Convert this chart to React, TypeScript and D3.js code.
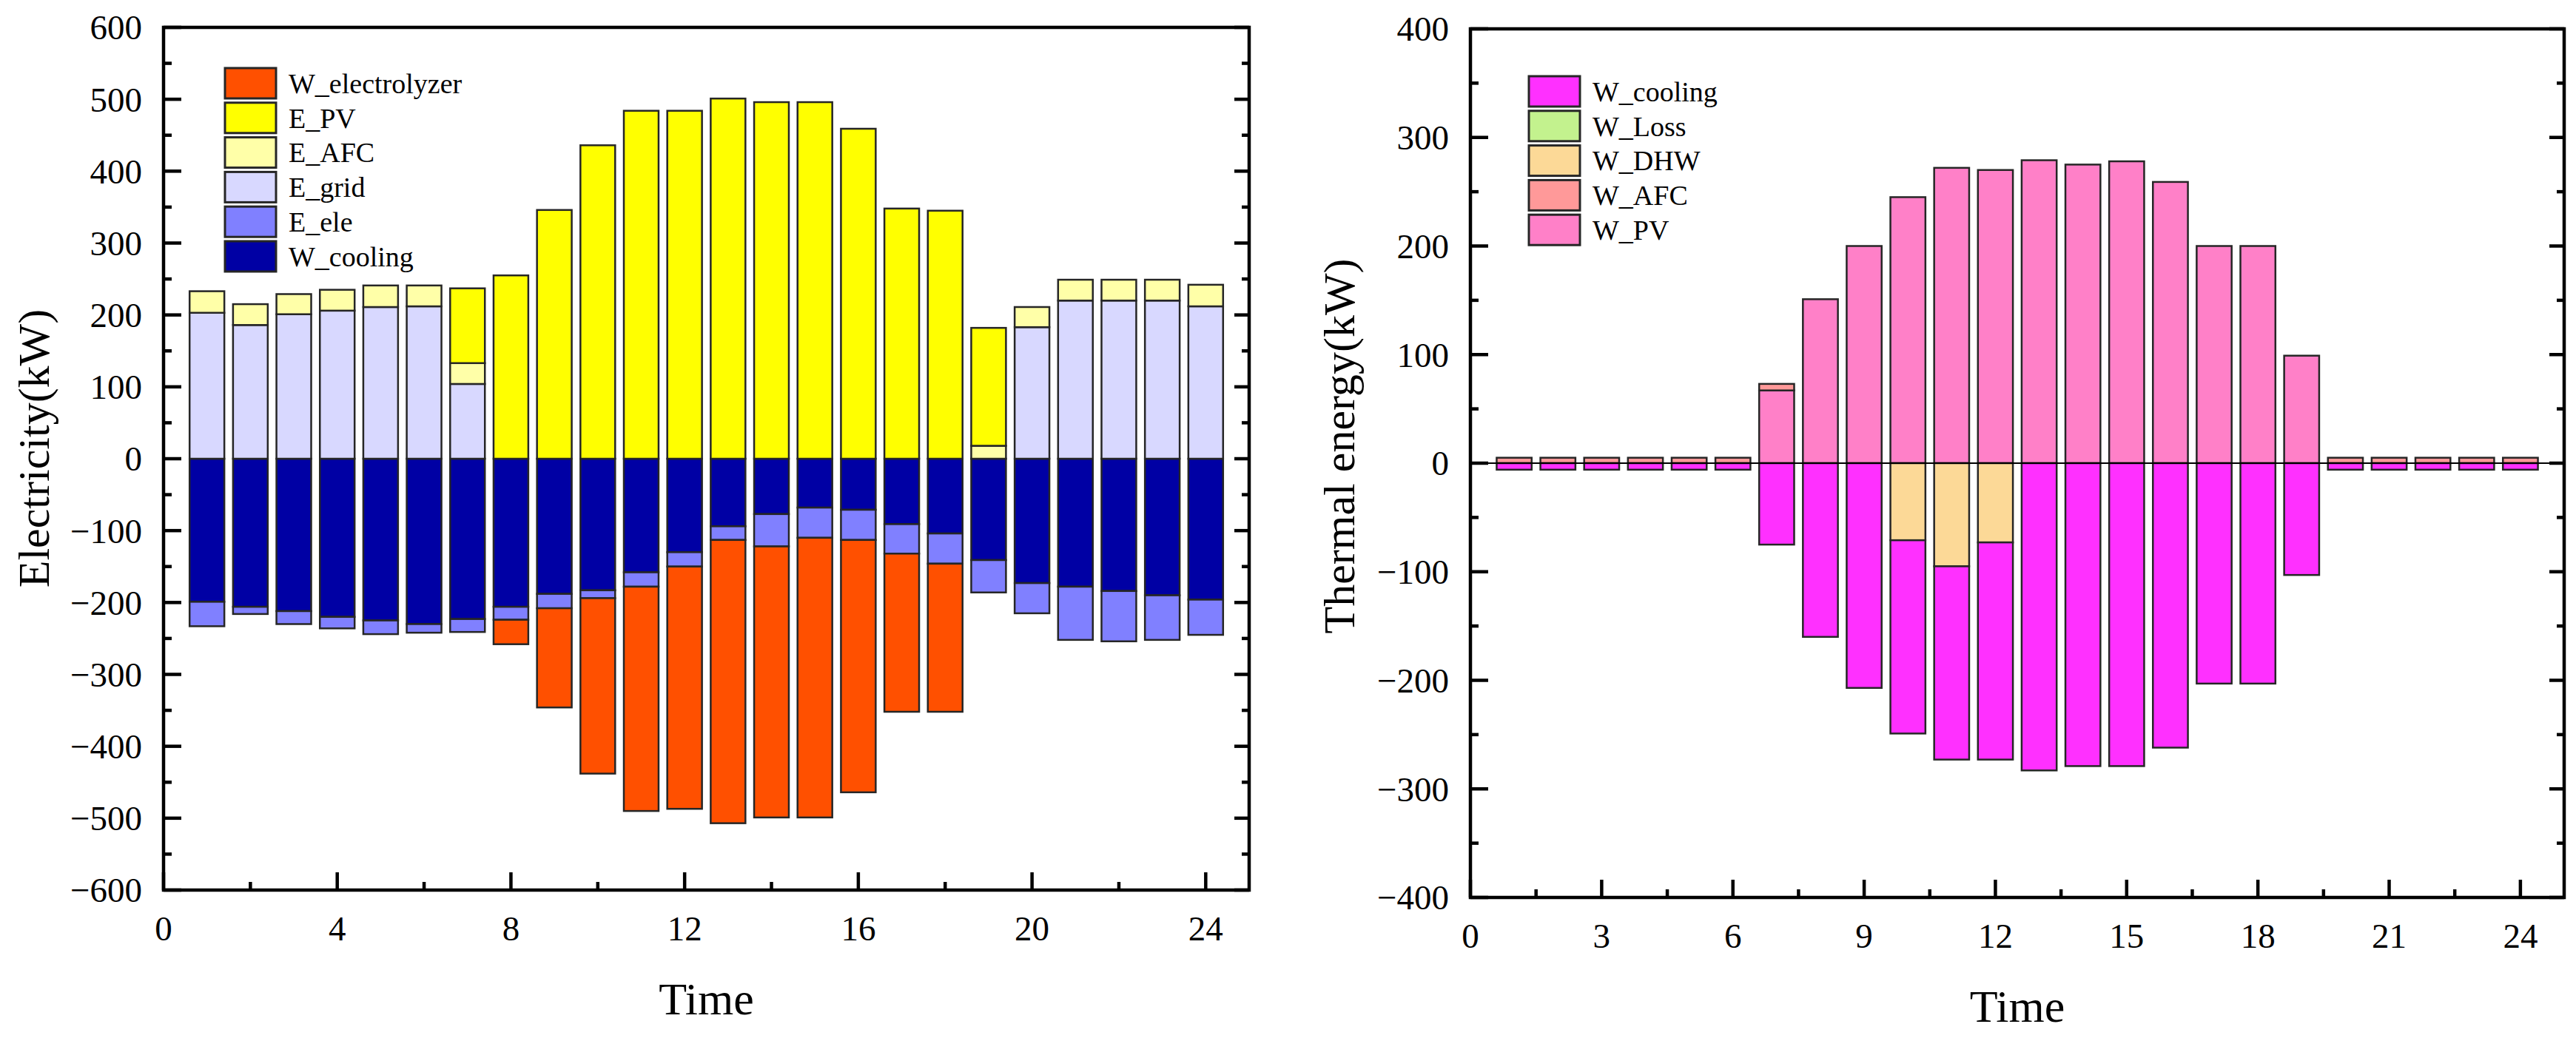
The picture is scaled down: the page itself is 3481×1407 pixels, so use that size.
import React from 'react';
import * as d3 from 'd3';

// hours on the x axis
const hours = [1, 2, 3, 4, 5, 6, 7, 8, 9, 10, 11, 12, 13, 14, 15, 16, 17, 18, 19, 20, 21, 22, 23, 24];

// electricity balance (kW)
const E_grid = [203, 186, 201, 206, 211, 212, 104, 0, 0, 0, 0, 0, 0, 0, 0, 0, 0, 0, 0, 183, 220, 220, 220, 212];
const E_AFC = [30, 29, 28, 29, 30, 29, 29, 0, 0, 0, 0, 0, 0, 0, 0, 0, 0, 0, 18, 28, 29, 29, 29, 30];
const E_PV = [0, 0, 0, 0, 0, 0, 104, 255, 346, 436, 484, 484, 501, 496, 496, 459, 348, 345, 164, 0, 0, 0, 0, 0];
const W_cooling_e = [-199, -206, -212, -220, -225, -230, -223, -206, -188, -183, -158, -130, -94, -77, -68, -71, -91, -104, -141, -173, -178, -184, -190, -196];
const E_ele = [-34, -10, -18, -16, -19, -12, -18, -18, -20, -11, -20, -20, -19, -45, -42, -42, -41, -42, -45, -42, -74, -70, -62, -49];
const W_electrolyzer = [0, 0, 0, 0, 0, 0, 0, -34, -138, -244, -312, -337, -394, -377, -389, -351, -220, -206, 0, 0, 0, 0, 0, 0];

// thermal balance (kW)
const W_PV = [0, 0, 0, 0, 0, 0, 67, 151, 200, 245, 272, 270, 279, 275, 278, 259, 200, 200, 99, 0, 0, 0, 0, 0];
const W_AFC = [5, 5, 5, 5, 5, 5, 6, 0, 0, 0, 0, 0, 0, 0, 0, 0, 0, 0, 0, 5, 5, 5, 5, 5];
const W_DHW = [0, 0, 0, 0, 0, 0, 0, 0, 0, -71, -95, -73, 0, 0, 0, 0, 0, 0, 0, 0, 0, 0, 0, 0];
const W_Loss = [0, 0, 0, 0, 0, 0, 0, 0, 0, 0, 0, 0, 0, 0, 0, 0, 0, 0, 0, 0, 0, 0, 0, 0];
const W_cooling_t = [-6, -6, -6, -6, -6, -6, -75, -160, -207, -178, -178, -200, -283, -279, -279, -262, -203, -203, -103, -6, -6, -6, -6, -6];

const leftTicksY = [-600, -500, -400, -300, -200, -100, 0, 100, 200, 300, 400, 500, 600];
const leftTicksX = [0, 4, 8, 12, 16, 20, 24];
const rightTicksY = [-400, -300, -200, -100, 0, 100, 200, 300, 400];
const rightTicksX = [0, 3, 6, 9, 12, 15, 18, 21, 24];

interface Series {
  name: string;
  color: string;
  values: number[];
}

// stacking order (first = next to zero); legend is shown in reverse
const elecSeries: Series[] = [
  { name: 'W_cooling', color: '#0000A4', values: W_cooling_e },
  { name: 'E_ele', color: '#8080FF', values: E_ele },
  { name: 'E_grid', color: '#D8D8FF', values: E_grid },
  { name: 'E_AFC', color: '#FFFFA8', values: E_AFC },
  { name: 'E_PV', color: '#FFFF00', values: E_PV },
  { name: 'W_electrolyzer', color: '#FF5000', values: W_electrolyzer },
];

const thermSeries: Series[] = [
  { name: 'W_PV', color: '#FF80C8', values: W_PV },
  { name: 'W_AFC', color: '#FF9999', values: W_AFC },
  { name: 'W_DHW', color: '#FCD997', values: W_DHW },
  { name: 'W_Loss', color: '#C3F28E', values: W_Loss },
  { name: 'W_cooling', color: '#FF30FF', values: W_cooling_t },
];

const FONT = '"Liberation Serif", "Times New Roman", serif';

interface PanelProps {
  series: Series[];
  x0: number;
  x1: number;
  yTop: number;
  yBot: number;
  yDomain: [number, number];
  yTicks: number[];
  yMinorStep: number;
  xTicks: number[];
  xMinorStep: number;
  yTitle: string;
  titleX: number;
  titleY: number;
  legendX: number;
  legendY: number;
  zeroLine: boolean;
}

const Panel: React.FC<PanelProps> = (p) => {
  const x = d3.scaleLinear().domain([0, 25]).range([p.x0, p.x1]);
  const y = d3.scaleLinear().domain(p.yDomain).range([p.yBot, p.yTop]);
  const bw = (x(1) - x(0)) * 0.8;

  const rows = hours.map((h, i) => {
    const r: Record<string, number> = { hour: h };
    p.series.forEach((s) => (r[s.name] = s.values[i]));
    return r;
  });
  const stacked = d3
    .stack<Record<string, number>>()
    .keys(p.series.map((s) => s.name))
    .offset(d3.stackOffsetDiverging)(rows);

  const yMinor = d3.range(p.yDomain[0], p.yDomain[1] + 1, p.yMinorStep).filter((v) => !p.yTicks.includes(v));
  const xMinor = d3.range(p.xMinorStep, 25, p.xMinorStep * 2);

  const legend = [...p.series].reverse();

  return (
    <g>
      {stacked.map((layer, li) => (
        <g key={li} fill={p.series[li].color} stroke="#262626" strokeWidth={2.5}>
          {layer.map((d, i) =>
            d[1] - d[0] === 0 ? null : (
              <rect
                key={i}
                x={x(hours[i]) - bw / 2}
                width={bw}
                y={y(d[1])}
                height={y(d[0]) - y(d[1])}
              />
            )
          )}
        </g>
      ))}
      {p.zeroLine && (
        <line x1={p.x0} x2={p.x1} y1={y(0)} y2={y(0)} stroke="#000" strokeWidth={2} />
      )}
      {/* frame */}
      <rect x={p.x0} y={p.yTop} width={p.x1 - p.x0} height={p.yBot - p.yTop} fill="none" stroke="#000" strokeWidth={4.5} />
      {/* y ticks */}
      {p.yTicks.map((t) => (
        <g key={'y' + t}>
          <line x1={p.x0} x2={p.x0 + 24} y1={y(t)} y2={y(t)} stroke="#000" strokeWidth={4.5} />
          <line x1={p.x1} x2={p.x1 - 20} y1={y(t)} y2={y(t)} stroke="#000" strokeWidth={4.5} />
          <text x={p.x0 - 29} y={y(t)} dy="0.35em" textAnchor="end" fontSize={47} fontFamily={FONT}>
            {t < 0 ? '\u2212' + Math.abs(t) : t}
          </text>
        </g>
      ))}
      {yMinor.map((t) => (
        <g key={'ym' + t}>
          <line x1={p.x0} x2={p.x0 + 11} y1={y(t)} y2={y(t)} stroke="#000" strokeWidth={4.5} />
          <line x1={p.x1} x2={p.x1 - 10} y1={y(t)} y2={y(t)} stroke="#000" strokeWidth={4.5} />
        </g>
      ))}
      {/* x ticks */}
      {p.xTicks.map((t) => (
        <g key={'x' + t}>
          <line x1={x(t)} x2={x(t)} y1={p.yBot} y2={p.yBot - 24} stroke="#000" strokeWidth={4.5} />
          <text x={x(t)} y={p.yBot + 68} textAnchor="middle" fontSize={47} fontFamily={FONT}>
            {t}
          </text>
        </g>
      ))}
      {xMinor.map((t) => (
        <line key={'xm' + t} x1={x(t)} x2={x(t)} y1={p.yBot} y2={p.yBot - 11} stroke="#000" strokeWidth={4.5} />
      ))}
      <text x={(p.x0 + p.x1) / 2} y={p.yBot + 168} textAnchor="middle" fontSize={62} fontFamily={FONT}>
        Time
      </text>
      <text
        transform={`translate(${p.titleX},${p.titleY}) rotate(-90)`}
        textAnchor="middle"
        fontSize={60}
        fontFamily={FONT}
      >
        {p.yTitle}
      </text>
      {/* legend */}
      {legend.map((s, i) => (
        <g key={'l' + s.name} transform={`translate(${p.legendX},${p.legendY + i * 46.8})`}>
          <rect width={69} height={41} fill={s.color} stroke="#262626" strokeWidth={3} />
          <text x={86} y={20.5} dy="0.35em" fontSize={38} fontFamily={FONT}>
            {s.name}
          </text>
        </g>
      ))}
    </g>
  );
};

const App: React.FC = () => (
  <svg
    width={3481}
    height={1407}
    style={{ position: 'absolute', left: 0, top: 0, display: 'block', background: '#fff' }}
  >
    <Panel
      series={elecSeries}
      x0={221}
      x1={1688}
      yTop={37}
      yBot={1203}
      yDomain={[-600, 600]}
      yTicks={leftTicksY}
      yMinorStep={50}
      xTicks={leftTicksX}
      xMinorStep={2}
      yTitle="Electricity(kW)"
      titleX={66}
      titleY={606}
      legendX={304}
      legendY={92}
      zeroLine={false}
    />
    <Panel
      series={thermSeries}
      x0={1987}
      x1={3465}
      yTop={39}
      yBot={1213}
      yDomain={[-400, 400]}
      yTicks={rightTicksY}
      yMinorStep={50}
      xTicks={rightTicksX}
      xMinorStep={1.5}
      yTitle="Thermal energy(kW)"
      titleX={1830}
      titleY={603}
      legendX={2066}
      legendY={103}
      zeroLine={true}
    />
  </svg>
);

export default App;
